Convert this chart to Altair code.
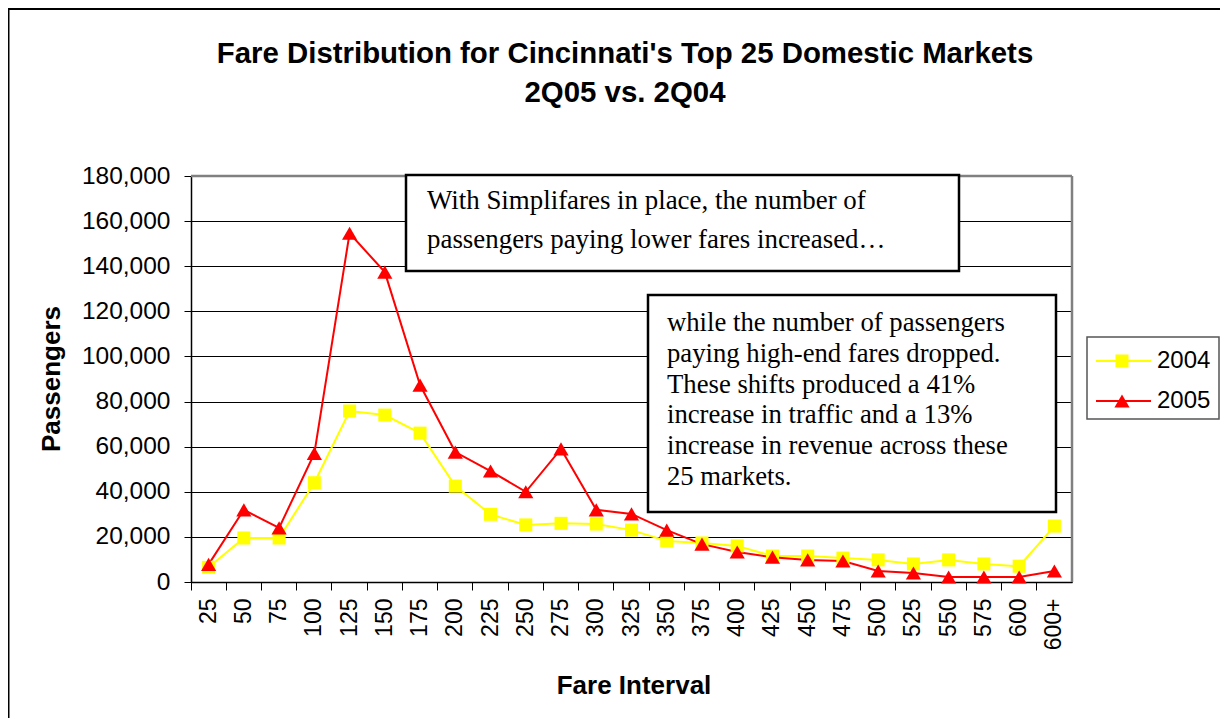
import altair as alt
import pandas as pd

fares = ["25", "50", "75", "100", "125", "150", "175", "200", "225", "250",
         "275", "300", "325", "350", "375", "400", "425", "450", "475", "500",
         "525", "550", "575", "600", "600+"]
pax_2004 = [6500, 19500, 19500, 44000, 75800, 74000, 66000, 42500, 30000, 25300,
            26000, 25700, 23000, 18200, 17300, 16000, 11500, 11500, 10600, 9800,
            8000, 9800, 8000, 7000, 24800]
pax_2005 = [7800, 32000, 24000, 57000, 154600, 137400, 87300, 57600, 49200, 40000,
            59000, 32000, 30200, 23000, 16800, 13300, 11000, 9800, 9300, 4900,
            4000, 2200, 2200, 2200, 4900]
series = ["2004", "2005"]
colors = ["#FFFF00", "#FF0000"]
shapes = ["square", "triangle-up"]
marker_sizes = [170, 230]
y_ticks = [0, 20000, 40000, 60000, 80000, 100000, 120000, 140000, 160000, 180000]

title_lines = ["Fare Distribution for Cincinnati's Top 25 Domestic Markets", "2Q05 vs. 2Q04"]
note1 = ["With Simplifares in place, the number of",
         "passengers paying lower fares increased\u2026"]
note2 = ["while the number of passengers",
         "paying high-end fares dropped.",
         "These shifts produced a 41%",
         "increase in traffic and a 13%",
         "increase in revenue across these",
         "25 markets."]

W, H = 881, 406
SANS = "Liberation Sans"
SERIF = "Liberation Serif"

df = pd.DataFrame({
    "fare": fares * 2,
    "series": [series[0]] * len(fares) + [series[1]] * len(fares),
    "pax": pax_2004 + pax_2005,
})

x_enc = alt.X("fare:N", sort=fares,
              scale=alt.Scale(type="band", paddingInner=0, paddingOuter=0),
              axis=alt.Axis(title=None, labelAngle=270, labelAlign="right", labelBaseline="middle",
                            labelFontSize=23, labelFont=SANS, labelColor="black",
                            tickColor="black", tickSize=8, labelPadding=8,
                            domainColor="black", domainWidth=1.5, bandPosition=0, grid=False))
y_enc = alt.Y("pax:Q", scale=alt.Scale(domain=[0, 180000], nice=False),
              axis=alt.Axis(title=None, values=y_ticks, format=",.0f", labelFontSize=24.5,
                            labelFont=SANS, labelColor="black", tickColor="black",
                            tickSize=7, labelPadding=14, grid=True, gridColor="black",
                            gridWidth=1, domainColor="black", domainWidth=1.5))
color_enc = alt.Color("series:N", scale=alt.Scale(domain=series, range=colors), legend=None)

base = alt.Chart(df)
lines = base.mark_line(strokeWidth=2).encode(x=x_enc, y=y_enc, color=color_enc, detail="series:N")
points = base.mark_point(filled=True, opacity=1, strokeWidth=0).encode(
    x=x_enc, y=y_enc, color=color_enc,
    shape=alt.Shape("series:N", scale=alt.Scale(domain=series, range=shapes), legend=None),
    size=alt.Size("series:N", scale=alt.Scale(domain=series, range=marker_sizes), legend=None),
)

one = pd.DataFrame({"k": [0]})
def C():
    return alt.Chart(one)

# plot frame top/right (gray)
frame_top = C().mark_rule(color="#808080", strokeWidth=2.5).encode(
    x=alt.value(0), x2=alt.value(W), y=alt.value(0))
frame_right = C().mark_rule(color="#808080", strokeWidth=2.5).encode(
    x=alt.value(W), y=alt.value(0), y2=alt.value(H))

# outer chart border (top and left)
outer_top = C().mark_rule(color="black", strokeWidth=2).encode(
    x=alt.value(-183), x2=alt.value(1029), y=alt.value(-167))
outer_left = C().mark_rule(color="black", strokeWidth=2).encode(
    x=alt.value(-182.5), y=alt.value(-167), y2=alt.value(560))

title = C().mark_text(text=title_lines, font=SANS, fontSize=29.4, fontWeight="bold",
                      align="center", baseline="alphabetic", lineHeight=39, color="black").encode(
    x=alt.value(434), y=alt.value(-113))

ytitle = C().mark_text(text="Passengers", font=SANS, fontSize=26, fontWeight="bold", angle=270,
                       align="center", baseline="middle", color="black").encode(
    x=alt.value(-139), y=alt.value(203))
xtitle = C().mark_text(text="Fare Interval", font=SANS, fontSize=26, fontWeight="bold",
                       align="center", baseline="middle", color="black").encode(
    x=alt.value(443), y=alt.value(510))

box1 = C().mark_rect(fill="white", stroke="black", strokeWidth=2.5).encode(
    x=alt.value(215), x2=alt.value(768), y=alt.value(-1), y2=alt.value(95))
text1 = C().mark_text(text=note1, font=SERIF, fontSize=26.9, align="left", baseline="alphabetic",
                      lineHeight=39, color="black").encode(x=alt.value(236), y=alt.value(33))
box2 = C().mark_rect(fill="white", stroke="black", strokeWidth=2.5).encode(
    x=alt.value(457), x2=alt.value(865), y=alt.value(119), y2=alt.value(336))
text2 = C().mark_text(text=note2, font=SERIF, fontSize=26.7, align="left", baseline="alphabetic",
                      lineHeight=30.8, color="black").encode(x=alt.value(476), y=alt.value(155))

# legend
leg_box = C().mark_rect(fill="white", stroke="#555555", strokeWidth=1.5).encode(
    x=alt.value(896), x2=alt.value(1028), y=alt.value(161), y2=alt.value(243))
leg_layers = []
for i, (s, c, sh, sz) in enumerate(zip(series, colors, shapes, marker_sizes)):
    yy = 185 + 40 * i
    leg_layers.append(C().mark_rule(color=c, strokeWidth=2).encode(
        x=alt.value(905), x2=alt.value(960), y=alt.value(yy)))
    leg_layers.append(C().mark_point(filled=True, opacity=1, strokeWidth=0, color=c,
                                     shape=sh, size=sz).encode(x=alt.value(931), y=alt.value(yy)))
    leg_layers.append(C().mark_text(text=s, font=SANS, fontSize=24, align="left",
                                    baseline="middle", color="black").encode(
        x=alt.value(966), y=alt.value(yy)))

chart = alt.layer(
    lines, points, frame_top, frame_right, outer_top, outer_left, title, ytitle, xtitle,
    box1, text1, box2, text2, leg_box, *leg_layers
).properties(
    width=W, height=H,
    autosize=alt.AutoSizeParams(type="none"),
    padding={"left": 183, "top": 168, "right": 148, "bottom": 136},
).configure_view(fill="#C0C0C0", stroke="transparent").configure(background="white")

chart.save("out.html", embed_options={"renderer": "svg", "actions": False})
